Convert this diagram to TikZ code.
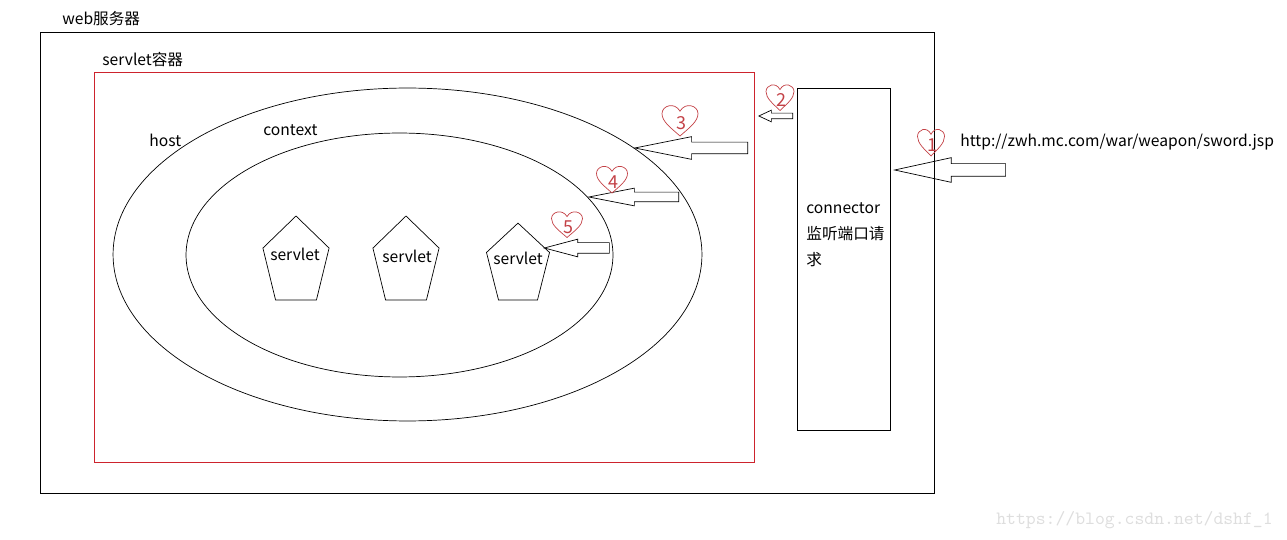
\documentclass[tikz,border=0pt]{standalone}
\usepackage{fontspec}
\setmainfont{Noto Sans CJK SC}
\usetikzlibrary{shapes.geometric,shapes.arrows}
\definecolor{boxred}{RGB}{205,35,45}
\definecolor{heartred}{RGB}{195,65,70}
\definecolor{markgray}{RGB}{222,222,222}
\tikzset{
  txt/.style={font=\fontsize{8.9}{11}\selectfont, inner sep=0pt},
  bigarrow/.style={draw, single arrow, shape border rotate=180, inner xsep=0pt, single arrow head indent=0pt, anchor=tip},
  pent/.style={draw, regular polygon, regular polygon sides=5, inner sep=0pt},
  num/.style={text=heartred, font=\fontsize{10.2}{11}\selectfont, inner sep=0pt}
}
\begin{document}
\begin{tikzpicture}[x=0.02cm,y=-0.02cm]
\useasboundingbox (0,0) rectangle (1287,540);
% containers
\node[draw, minimum width=17.88cm, minimum height=9.22cm](web) at (487,262.5){};
\node[txt, anchor=west](webtxt) at (62,19){web服务器};
\node[draw=boxred, minimum width=13.2cm, minimum height=7.8cm](sc) at (424,267){};
\node[txt, anchor=west](sctxt) at (102,60){servlet容器};
\node[draw, ellipse, minimum width=11.78cm, minimum height=6.66cm](host) at (407.5,254.5){};
\node[txt, anchor=west](hosttxt) at (149,140){host};
\node[draw, ellipse, minimum width=8.54cm, minimum height=4.88cm](ctx) at (399.5,255){};
\node[txt, anchor=west](ctxtxt) at (263,130){context};
% servlets
\node[pent, minimum size=1.856cm, xscale=0.75](sv1) at (296,262.4){};
\node[pent, minimum size=1.856cm, xscale=0.75](sv2) at (406,262.4){};
\node[pent, minimum size=1.70cm, xscale=0.78](sv3) at (518,265.6){};
\node[txt](sv1txt) at (295,254){servlet};
\node[txt](sv2txt) at (407,256){servlet};
\node[txt](sv3txt) at (518,258){servlet};
% connector
\node[draw, minimum width=1.86cm, minimum height=6.84cm](conn) at (843.5,259){};
\node[txt, anchor=north west, align=left, font=\fontsize{8.9}{14.8}\selectfont](conntxt) at (806,202){connector\\监听端口请\\求};
\node[txt, anchor=west](url) at (960,142){http://zwh.mc.com/war/weapon/sword.jsp};
% block arrows
\node[bigarrow, minimum height=2.22cm, inner ysep=0.12cm, single arrow head extend=0.12cm, single arrow tip angle=24.6](a1) at (893,170){};
\node[bigarrow, minimum height=0.68cm, inner ysep=0.05cm, single arrow head extend=0.06cm, single arrow tip angle=50](a2) at (758,116){};
\node[bigarrow, minimum height=2.26cm, inner ysep=0.11cm, single arrow head extend=0.11cm, single arrow tip angle=22.6](a3) at (633,148){};
\node[bigarrow, minimum height=1.8cm, inner ysep=0.09cm, single arrow head extend=0.08cm, single arrow tip angle=22](a4) at (587,197){};
\node[bigarrow, minimum height=1.3cm, inner ysep=0.1cm, single arrow head extend=0.07cm, single arrow tip angle=29.7](a5) at (543,248){};
% hearts
\foreach \n/\x/\y/\w/\h in {1/931/142/27/28, 2/780/97/28/27, 3/680/120/36/32, 4/612/179/31/28, 5/567/224/31/27}{
  \node[num](h\n) at (\x+1,\y+3){\n};
  \draw[heartred, shift={(\x,\y)}, xscale=\w/2, yscale=\h/2] (0,1) .. controls (-0.5,0.5) and (-1,0.1) .. (-1,-0.4) .. controls (-1,-0.9) and (-0.3,-1.15) .. (0,-0.55) .. controls (0.3,-1.15) and (1,-0.9) .. (1,-0.4) .. controls (1,0.1) and (0.5,0.5) .. (0,1) -- cycle;
}
\node[text=markgray, font=\fontsize{10.7}{12}\ttfamily, inner sep=0pt, anchor=west](mark) at (996,520){https://blog.csdn.net/dshf\_1};
\end{tikzpicture}
\end{document}
